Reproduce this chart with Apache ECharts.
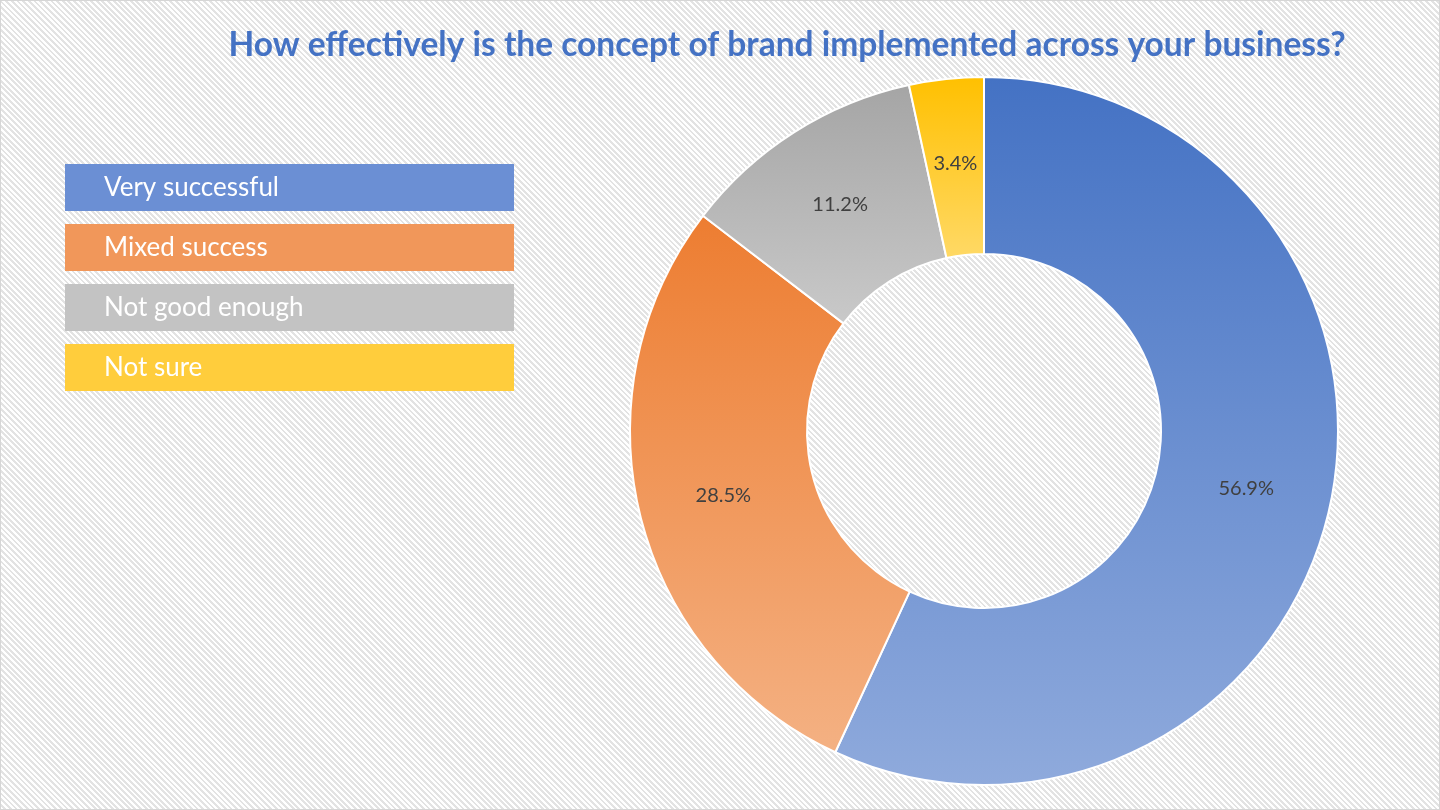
<!DOCTYPE html>
<html>
<head>
<meta charset="utf-8">
<script src="https://cdn.jsdelivr.net/npm/echarts@6/dist/echarts.min.js"></script>
<style>
  html, body { margin: 0; padding: 0; }
  #chart {
    width: 1440px;
    height: 810px;
    box-sizing: border-box;
    border: 1px solid #d6d6d6;
    background: repeating-linear-gradient(45deg, #ffffff 0px, #ffffff 2px, #e3e3e3 2px, #e3e3e3 4px);
  }
</style>
</head>
<body>
<div id="chart"></div>
<script>
const titleText = 'How effectively is the concept of brand implemented across your business?'
const categories = ['Very successful', 'Mixed success', 'Not good enough', 'Not sure']
const shares = [56.9, 28.5, 11.2, 3.4]
// top/bottom colours of each slice gradient, and the flat legend bar colour
const topColors = ['#4472C4', '#ED7D31', '#A5A5A5', '#FFC000']
const bottomColors = ['#8FAADC', '#F4B183', '#C9C9C9', '#FFD966']
const barColors = ['#6B8FD4', '#F1975A', '#C3C3C3', '#FFCD3C']

const chart = echarts.init(document.getElementById('chart'))

const rich = {}
categories.forEach((name, i) => {
  rich['b' + i] = {
    backgroundColor: barColors[i],
    color: '#ffffff',
    fontFamily: 'Lato',
    fontSize: 26,
    width: 410,
    height: 47,
    lineHeight: 47,
    padding: [0, 0, 0, 39]
  }
})

chart.setOption({
  backgroundColor: 'transparent',
  title: {
    text: titleText,
    left: 781,
    top: 22,
    textAlign: 'center',
    textStyle: {
      color: '#4472C4',
      fontFamily: 'Lato',
      fontWeight: 'bold',
      fontSize: 33.5
    }
  },
  legend: {
    orient: 'vertical',
    left: 59,
    top: 163,
    padding: 0,
    itemGap: 13,
    itemWidth: 0,
    itemHeight: 0,
    icon: 'none',
    selectedMode: false,
    data: categories,
    formatter: (name) => '{b' + categories.indexOf(name) + '|' + name + '}',
    textStyle: { rich }
  },
  series: [{
    type: 'pie',
    center: [983, 430],
    radius: [177, 354],
    startAngle: 90,
    clockwise: true,
    avoidLabelOverlap: false,
    emphasis: { disabled: true },
    itemStyle: { borderColor: '#ffffff', borderWidth: 2 },
    label: {
      position: 'inside',
      formatter: (p) => p.value.toFixed(1) + '%',
      color: '#404040',
      fontFamily: 'Lato',
      fontSize: 20
    },
    labelLine: { show: false },
    data: categories.map((name, i) => ({
      name,
      value: shares[i],
      itemStyle: {
        color: new echarts.graphic.LinearGradient(0, 0, 0, 1, [
          { offset: 0, color: topColors[i] },
          { offset: 1, color: bottomColors[i] }
        ])
      }
    }))
  }]
})
</script>
</body>
</html>
